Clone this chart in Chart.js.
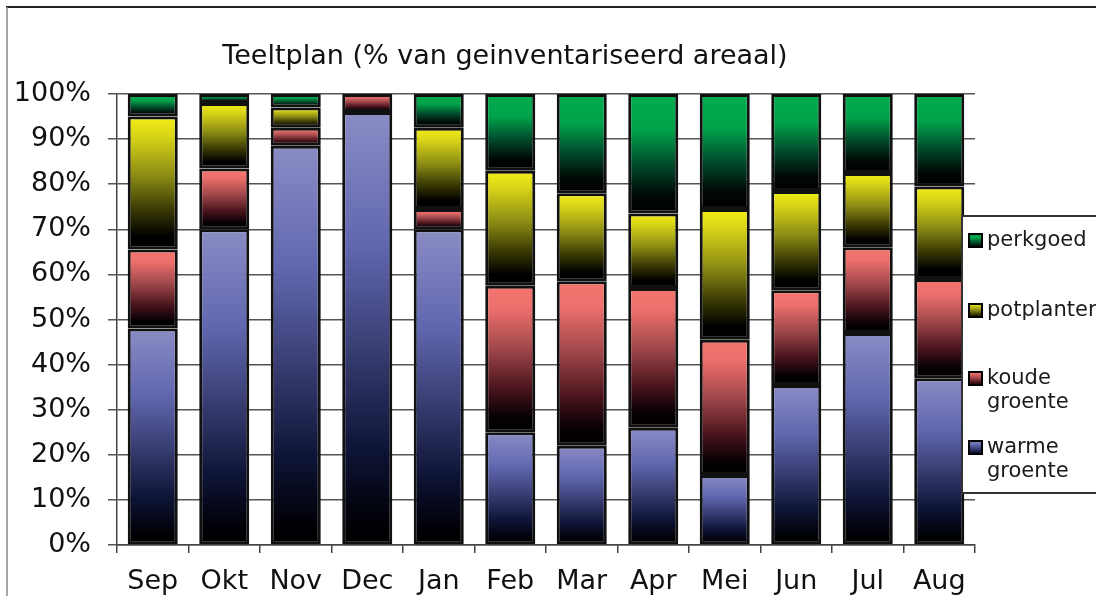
<!DOCTYPE html>
<html>
<head>
<meta charset="utf-8">
<script src="https://cdn.jsdelivr.net/npm/chart.js@4/dist/chart.umd.min.js"></script>
<style>
html,body{margin:0;padding:0;background:#fff;}
#wrap{width:1096px;height:596px;position:relative;}
</style>
</head>
<body>
<div id="wrap"><canvas id="c"></canvas></div>
<script>
const titleText = 'Teeltplan (% van geinventariseerd areaal)';
const months = ['Sep','Okt','Nov','Dec','Jan','Feb','Mar','Apr','Mei','Jun','Jul','Aug'];
const warmeGroente = [48, 70, 88.5, 96, 70, 25, 22, 26, 15.5, 35.5, 47, 37];
const koudeGroente = [17.5, 13.5, 4, 4, 4.5, 32.5, 36.5, 31, 30, 21, 19, 22];
const potplanter   = [29.5, 14.5, 4.5, 0, 18, 25.5, 19.5, 16.5, 29, 22, 16.5, 20.5];
const perkgoed     = [5, 2, 3, 0, 7.5, 17, 22, 26.5, 25.5, 21.5, 17.5, 20.5];
const seriesLabels = [['warme','groente'], ['koude','groente'], ['potplanter'], ['perkgoed']];
const seriesColors = ['#8485c4', '#f3756f', '#f4ee12', '#00ab4e'];
const yTicks = [0,10,20,30,40,50,60,70,80,90,100];

const allSeries = [warmeGroente, koudeGroente, potplanter, perkgoed];

const gradStops = [
  [[0,'#8a8cc4'],[0.3,'#6268b0'],[0.55,'#383d72'],[0.78,'#0e1436'],[0.95,'#000005'],[1,'#000000']],
  [[0,'#f4756f'],[0.15,'#ee706c'],[0.45,'#9a4448'],[0.7,'#4a141c'],[0.9,'#050004'],[1,'#000000']],
  [[0,'#f4ee14'],[0.15,'#d8d418'],[0.45,'#8a8a14'],[0.7,'#3a3a04'],[0.9,'#000000'],[1,'#000000']],
  [[0,'#00ac4e'],[0.3,'#00a24a'],[0.6,'#00482a'],[0.85,'#000804'],[1,'#000000']]
];

function gradFill(ctx2d, ds, yTop, yBot) {
  const g = ctx2d.createLinearGradient(0, yTop, 0, yBot);
  gradStops[ds].forEach(s => g.addColorStop(s[0], s[1]));
  return g;
}

function segFill(c) {
  const ds = c.datasetIndex;
  const color = seriesColors[ds];
  if (c.type !== 'data') return color;
  const chart = c.chart;
  const y = chart.scales && chart.scales.y;
  if (!chart.chartArea || !y) return color;
  let start = 0;
  for (let k = 0; k < ds; k++) start += allSeries[k][c.dataIndex];
  const end = start + allSeries[ds][c.dataIndex];
  const yTop = y.getPixelForValue(end);
  const yBot = y.getPixelForValue(start);
  if (!(yBot > yTop)) return color;
  return gradFill(chart.ctx, ds, yTop, yBot);
}

const decorPlugin = {
  id: 'decor',
  beforeDraw(chart) {
    const ctx = chart.ctx;
    ctx.save();
    ctx.strokeStyle = '#222';
    ctx.lineWidth = 2;
    ctx.beginPath(); ctx.moveTo(6, 7); ctx.lineTo(1096, 7); ctx.stroke();
    ctx.strokeStyle = '#888';
    ctx.lineWidth = 1.5;
    ctx.beginPath(); ctx.moveTo(7, 7); ctx.lineTo(7, 596); ctx.stroke();
    // title
    ctx.fillStyle = '#111';
    ctx.font = '27px "DejaVu Sans"';
    ctx.textAlign = 'center';
    ctx.textBaseline = 'middle';
    ctx.fillText(titleText, 505, 57);
    ctx.restore();
  },
  afterDraw(chart) {
    const ctx = chart.ctx;
    ctx.save();
    ctx.fillStyle = '#fff';
    ctx.fillRect(962, 216, 140, 277);
    ctx.strokeStyle = '#333';
    ctx.lineWidth = 2;
    ctx.strokeRect(962, 216, 140, 277);
    const order = [3, 2, 1, 0];
    const ys = [240, 310, 378, 447];
    ctx.font = '21px "DejaVu Sans"';
    ctx.textBaseline = 'middle';
    ctx.textAlign = 'left';
    order.forEach((ds, i) => {
      const yc = ys[i];
      ctx.fillStyle = gradFill(ctx, ds, yc - 7, yc + 9);
      ctx.fillRect(969, yc - 6, 13, 13);
      ctx.strokeStyle = '#000';
      ctx.lineWidth = 2;
      ctx.strokeRect(969, yc - 6, 13, 13);
      ctx.fillStyle = '#1a1a1a';
      seriesLabels[ds].forEach((line, j) => {
        ctx.fillText(line, 987, yc + 1 + j * 24);
      });
    });
    ctx.restore();
  }
};

const datasets = allSeries.map((arr, i) => ({
  label: seriesLabels[i].join(' '),
  data: arr,
  backgroundColor: segFill,
  borderColor: '#111',
  borderWidth: 3,
  borderSkipped: false,
  barPercentage: 0.7,
  categoryPercentage: 1.0
}));

new Chart(document.getElementById('c'), {
  type: 'bar',
  data: { labels: months, datasets },
  plugins: [decorPlugin],
  options: {
    responsive: true,
    maintainAspectRatio: false,
    animation: false,
    layout: { padding: { left: 0, right: 121, top: 94, bottom: 0 } },
    plugins: {
      legend: { display: false },
      tooltip: { enabled: false },
      title: { display: false }
    },
    scales: {
      x: {
        stacked: true,
        offset: true,
        grid: { display: true, drawOnChartArea: false, offset: true, tickLength: 8, color: '#444', lineWidth: 1.5 },
        border: { display: true, color: '#444', width: 1.5 },
        ticks: { color: '#111', font: { family: 'DejaVu Sans', size: 27 }, padding: 13, maxRotation: 0 },
        afterFit(s) { s.height = 51; }
      },
      y: {
        stacked: true,
        min: 0, max: 100,
        afterBuildTicks(s) { s.ticks = yTicks.map(v => ({ value: v })); },
        grid: { color: '#555', lineWidth: 1.5, tickLength: 9 },
        border: { display: true, color: '#444', width: 1.5 },
        ticks: { color: '#111', font: { family: 'DejaVu Sans', size: 27 }, padding: 17, callback: v => v + '%' },
        afterFit(s) { s.width = 117; }
      }
    }
  }
});
</script>
</body>
</html>
